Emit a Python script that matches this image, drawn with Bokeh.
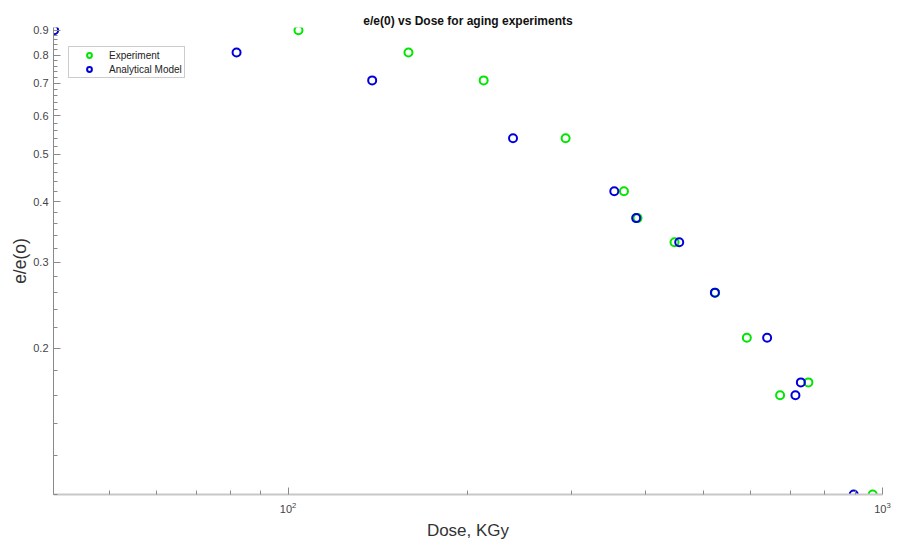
from bokeh.plotting import figure
from bokeh.models import (Range1d, FixedTicker, PrintfTickFormatter, Legend,
                          LegendItem)
from bokeh.embed import file_html
from bokeh.resources import INLINE

# ---- data ----
exp_dose = [104.1, 159.4, 213.3, 293.0, 367.3, 387.1, 446.8, 522.9, 591.2, 672.5, 750.4, 962.7]
exp_ratio = [0.90, 0.81, 0.71, 0.54, 0.42, 0.37, 0.33, 0.26, 0.21, 0.16, 0.17, 0.10]
model_dose = [40.4, 81.9, 138.5, 239.0, 353.8, 385.1, 455.0, 522.4, 639.6, 713.7, 728.9, 894.4]
model_ratio = [0.90, 0.81, 0.71, 0.54, 0.42, 0.37, 0.33, 0.26, 0.21, 0.16, 0.17, 0.10]

x_major_ticks = [100, 1000]
x_minor_ticks = [50, 60, 70, 80, 90, 200, 300, 400, 500, 600, 700, 800, 900]
y_major_ticks = [0.2, 0.3, 0.4, 0.5, 0.6, 0.7, 0.8, 0.9]
y_minor_ticks = [0.1, 0.12, 0.14, 0.16, 0.18, 0.2, 0.22, 0.24, 0.26, 0.28, 0.3,
                 0.32, 0.34, 0.36, 0.38, 0.4, 0.42, 0.44, 0.46, 0.48, 0.5,
                 0.52, 0.54, 0.56, 0.58, 0.6, 0.62, 0.64, 0.66, 0.68, 0.7,
                 0.72, 0.74, 0.76, 0.78, 0.8, 0.82, 0.84, 0.86, 0.88, 0.9]

title_text = "e/e(0) vs Dose for aging experiments"
x_label = "Dose, KGy"
y_label = "e/e(o)"
series_names = ["Experiment", "Analytical Model"]

FONT = "Liberation Sans"
GREEN = "#00e600"
BLUE = "#0000dd"

p = figure(width=906, height=542,
           x_axis_type="log", y_axis_type="log",
           x_range=Range1d(40.3, 1000), y_range=Range1d(0.1, 0.912),
           output_backend="svg", toolbar_location=None,
           min_border_left=53, min_border_right=24,
           min_border_top=27, min_border_bottom=48)
p.outline_line_color = None
p.xgrid.visible = False
p.ygrid.visible = False
p.background_fill_color = "white"
p.border_fill_color = "white"

p.title.text = title_text
p.title.text_font = FONT
p.title.text_font_size = "12px"
p.title.text_font_style = "bold"
p.title.text_color = "#111111"
p.title.align = "center"
p.title.offset = -4
p.title.standoff = 0

p.xaxis.ticker = FixedTicker(ticks=x_major_ticks, minor_ticks=x_minor_ticks)
p.yaxis.ticker = FixedTicker(ticks=y_major_ticks, minor_ticks=y_minor_ticks)
p.yaxis.formatter = PrintfTickFormatter(format="%.1f")

for ax in (p.xaxis[0], p.yaxis[0]):
    ax.major_tick_in = 7
    ax.major_tick_out = 0
    ax.minor_tick_in = 4
    ax.minor_tick_out = 0
    ax.major_tick_line_color = "#8a8a8a"
    ax.minor_tick_line_color = "#8a8a8a"
    ax.major_label_text_font = FONT
    ax.major_label_text_font_size = "11px"
    ax.major_label_text_color = "#444444"
    ax.axis_label_text_font = FONT
    ax.axis_label_text_font_style = "normal"
    ax.axis_label_text_color = "#333333"

p.xaxis.axis_label = x_label
p.xaxis.axis_label_text_font_size = "17px"
p.xaxis.axis_label_standoff = 5
p.yaxis.axis_label = y_label
p.yaxis.axis_label_text_font_size = "17.5px"
p.yaxis.axis_label_standoff = 0

p.xaxis.axis_line_color = "#c8c8c8"
p.xaxis.axis_line_width = 2
p.yaxis.axis_line_color = "#8a8a8a"
p.yaxis.axis_line_width = 1
p.xaxis.major_label_standoff = 7
p.yaxis.major_label_standoff = 5

r_exp = p.scatter(exp_dose, exp_ratio, marker="circle", size=8,
                  fill_color=None, line_color=GREEN, line_width=2)
r_mod = p.scatter(model_dose, model_ratio, marker="circle", size=8,
                  fill_color=None, line_color=BLUE, line_width=2)

legend = Legend(items=[LegendItem(label=series_names[0], renderers=[r_exp]),
                       LegendItem(label=series_names[1], renderers=[r_mod])],
                location=(15, 416),
                padding=2, spacing=2, margin=0,
                glyph_width=36, glyph_height=12, label_height=12,
                label_standoff=2,
                label_text_font=FONT, label_text_font_size="10px",
                label_text_color="#222222",
                border_line_color="#999999", border_line_width=1,
                background_fill_color="white", background_fill_alpha=1.0)
p.add_layout(legend)

open("out.html", "w").write(file_html(p, INLINE))
